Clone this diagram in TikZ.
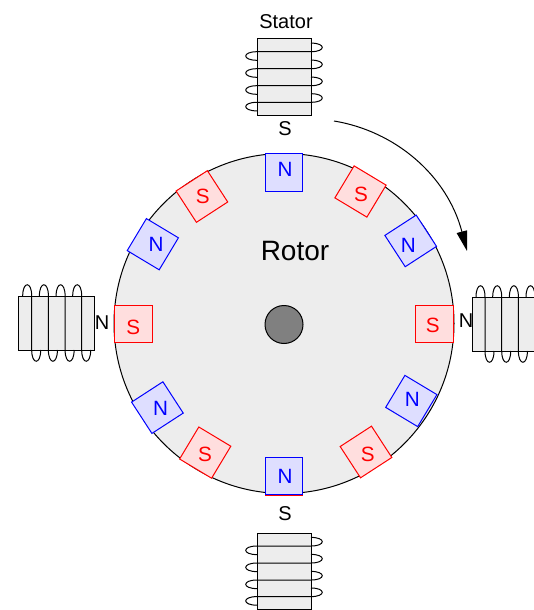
\documentclass[tikz,border=0pt]{standalone}
\usepackage{fontspec}
\setmainfont{Liberation Sans}
\usetikzlibrary{arrows.meta}
\tikzset{
  x=0.75pt,y=-0.75pt,
  core/.style={draw=black,line width=0.75pt,fill=black!7,inner sep=0pt,outer sep=0pt},
  coil/.style={draw=black,line width=0.75pt},
  magnetN/.style={draw=blue,fill=blue!13,line width=0.75pt,minimum size=28pt,inner sep=0pt,outer sep=0pt},
  magnetS/.style={draw=red,fill=red!13,line width=0.75pt,minimum size=28pt,inner sep=0pt,outer sep=0pt},
  poleN/.style={text=blue,font=\fontsize{15.5}{15.5}\selectfont,inner sep=0pt},
  poleS/.style={text=red,font=\fontsize{15.5}{15.5}\selectfont,inner sep=0pt},
  lab/.style={text=black,font=\fontsize{15}{15}\selectfont,inner sep=0pt},
}
\newcommand{\vcoil}[3]{% x-left, x-right, y of first turn
  \foreach \yy in {0,17,34,50.6}{
    \draw[coil] (#1,{#3+\yy+8.6}) .. controls (#1-15,{#3+\yy+8.6}) and (#1-15,{#3+\yy}) .. (#1,{#3+\yy}) -- (#2,{#3+\yy})
       .. controls (#2+15,{#3+\yy}) and (#2+15,{#3+\yy-8.6}) .. (#2,{#3+\yy-8.6});
  }
}
\newcommand{\hcoil}[3]{% x of first turn, y-top, y-bottom
  \foreach \xx in {0,16.7,33.4,50}{
    \draw[coil] ({#1+\xx-9},#2) .. controls ({#1+\xx-9},#2-15) and ({#1+\xx},#2-15) .. ({#1+\xx},#2) -- ({#1+\xx},#3)
       .. controls ({#1+\xx},#3+15) and ({#1+\xx+9},#3+15) .. ({#1+\xx+9},#3);
  }
}
\begin{document}
\begin{tikzpicture}
\useasboundingbox (0,0) rectangle (534,610);
\clip (0,0) rectangle (534,610);
% rotor
\node[circle,draw=black,line width=0.75pt,fill=black!7,minimum size=255pt,inner sep=0pt,outer sep=0pt] (rotor) at (284,323.5) {};
\node[circle,draw=black,line width=0.75pt,fill=black!50,minimum size=28.5pt,inner sep=0pt,outer sep=0pt] (hub) at (284,324.5) {};
\node[lab,font=\fontsize{21}{21}\selectfont] (rotorlab) at (295,251) {Rotor};
% magnets: polarity / box x / box y / rotation / text x / text y / id
\foreach \p/\mx/\my/\mr/\tx/\ty/\i in {
  N/284/172.5/0/285/169/1,
  S/360.5/191.5/-31/361/194.3/2,
  N/410.7/240.9/33/408.3/245/3,
  S/434.5/324/0/432.7/325.7/4,
  N/411.3/401/-31/412.3/399/5,
  S/366/452/33/367.7/454.3/6,
  S/284/476.4/0/285/476/13,
  N/284/476/0/285/476/7,
  S/205.2/452.6/-31/205/454.3/8,
  N/157.4/407.6/33/160.7/408.3/9,
  S/133.5/324/0/133.3/327.3/10,
  N/152.8/244.2/-31/156/244/11,
  S/201.9/196.5/33/202.7/196.7/12}{
  \node[magnet\p,rotate=\mr] (m\i) at (\mx,\my) {};
  \ifnum\i=13\relax\else\node[pole\p] (t\i) at (\tx,\ty) {\p};\fi
}
% stators
\node[core,minimum width=40.5pt,minimum height=57pt] (st) at (284,77) {};
\vcoil{257}{311}{51.7}
\node[core,minimum width=40.5pt,minimum height=57pt] (sb) at (284,571) {};
\vcoil{257}{311}{546}
\node[core,minimum width=57pt,minimum height=40.5pt] (sl) at (56,323) {};
\hcoil{31.7}{296}{350}
\node[core,minimum width=80pt,minimum height=40.5pt,anchor=west] (sr) at (472,324) {};
\hcoil{485}{297}{351}
% labels
\node[lab] (stator) at (286,22) {Stator};
\node[lab] (s1) at (285,129) {S};
\node[lab] (s2) at (285,514) {S};
\node[lab] (n1) at (102,323) {N};
\node[lab] (n2) at (466,321) {N};
% rotation arrow
\coordinate (arcA) at (334,121);
\coordinate (arcB) at (467,251);
\draw[line width=0.75pt,-{Triangle[length=15pt,width=8pt]}] (arcA) .. controls (395,131) and (447,175) .. (arcB);
\end{tikzpicture}
\end{document}
